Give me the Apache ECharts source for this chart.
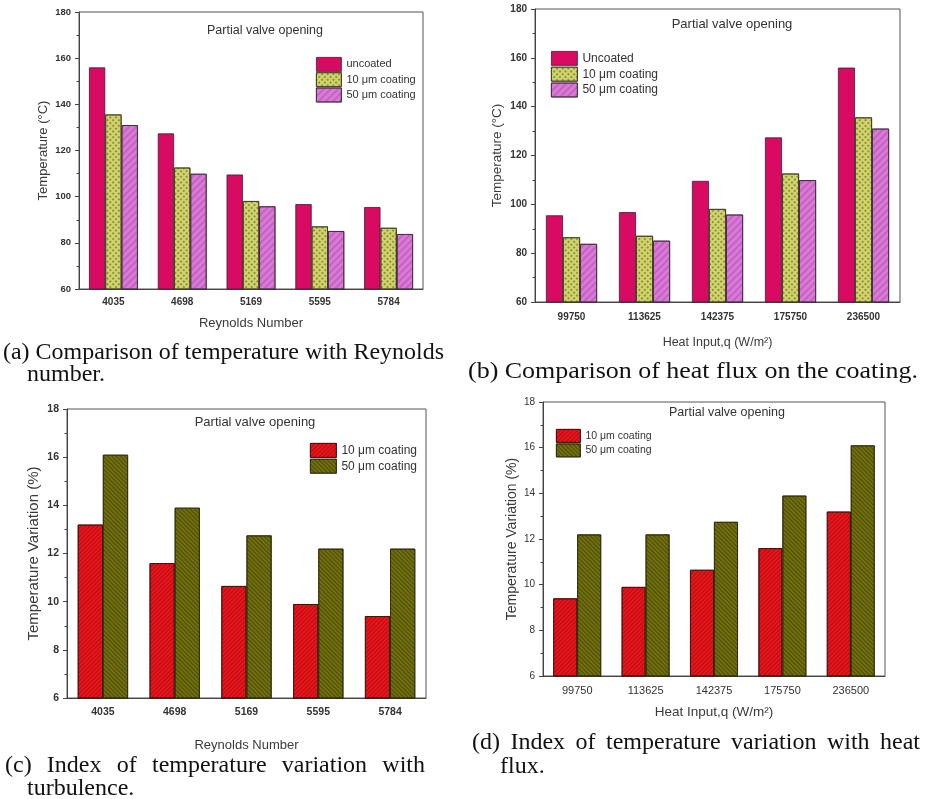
<!DOCTYPE html>
<html>
<head>
<meta charset="utf-8">
<script src="https://cdn.jsdelivr.net/npm/echarts@6/dist/echarts.min.js"></script>
<style>
  html, body { margin: 0; padding: 0; background: #fff; }
  #chart { width: 928px; height: 799px; }
</style>
</head>
<body>
<div id="chart"></div>
<script>
// Reynolds-number panels (a) and (c)
const reynolds = ['4035', '4698', '5169', '5595', '5784'];
const tempUncoatedRe = [156.0, 127.4, 109.6, 96.8, 95.5];
const temp10Re = [135.6, 112.6, 98.1, 87.1, 86.5];
const temp50Re = [131.0, 109.9, 95.8, 85.1, 83.8];
const var10Re = [13.2, 11.6, 10.65, 9.9, 9.4];
const var50Re = [16.1, 13.9, 12.75, 12.2, 12.2];

// Heat-input panels (b) and (d)
const heatInput = ['99750', '113625', '142375', '175750', '236500'];
const tempUncoatedQ = [95.5, 96.8, 109.6, 127.4, 156.0];
const temp10Q = [86.5, 87.1, 98.1, 112.6, 135.6];
const temp50Q = [83.8, 85.1, 95.8, 109.9, 131.0];
const var10Q = [9.4, 9.9, 10.65, 11.6, 13.2];
const var50Q = [12.2, 12.2, 12.75, 13.9, 16.1];

const tempTicks = { min: 60, max: 180, interval: 20 };
const varTicks = { min: 6, max: 18, interval: 2 };

const SANS = '"Liberation Sans", Arial, sans-serif';
const SERIF = '"Liberation Serif", "Times New Roman", serif';

// fill patterns
const checkerDecal = {
  symbol: 'rect', symbolSize: 1,
  dashArrayX: [1.5, 1.5], dashArrayY: [1.5, 1.5], rotation: Math.PI / 4,
  color: 'rgba(80,80,20,0.5)'
};
const pinkHatch = {
  symbol: 'rect', symbolSize: 1,
  dashArrayX: [1, 0], dashArrayY: [2, 3], rotation: -Math.PI / 4,
  color: 'rgba(170,60,170,0.4)'
};
const redHatch = {
  symbol: 'rect', symbolSize: 1,
  dashArrayX: [1, 0], dashArrayY: [1, 2], rotation: -Math.PI / 4,
  color: 'rgba(120,0,0,0.45)'
};
const oliveHatch = {
  symbol: 'rect', symbolSize: 1,
  dashArrayX: [1, 0], dashArrayY: [1, 2], rotation: Math.PI / 4,
  color: 'rgba(40,40,0,0.5)'
};

const styles = {
  uncoated: { color: '#d80a62', borderColor: '#3a2030', borderWidth: 0.8 },
  c10: { color: '#d0d46a', borderColor: '#3a3a20', borderWidth: 0.8, decal: checkerDecal },
  c50: { color: '#d97ad6', borderColor: '#3a2a3a', borderWidth: 0.8, decal: pinkHatch },
  red: { color: '#e8161c', borderColor: '#3a1010', borderWidth: 0.8, decal: redHatch },
  olive: { color: '#716f0e', borderColor: '#2a2a10', borderWidth: 0.8, decal: oliveHatch }
};

const grids = [
  { left: 79, top: 12, width: 344, height: 277 },
  { left: 535, top: 9, width: 365, height: 293 },
  { left: 67, top: 409, width: 359, height: 289 },
  { left: 543, top: 402, width: 342, height: 274 }
].map(g => Object.assign({ show: true, borderColor: '#555', borderWidth: 1, backgroundColor: 'transparent' }, g));

function xAxis(gridIndex, cats, name, o) {
  return {
    type: 'category', gridIndex, data: cats,
    name, nameLocation: 'middle', nameGap: o.nameGap,
    nameTextStyle: { fontFamily: SANS, fontSize: o.nameSize, color: '#3a3a3a' },
    axisLine: { lineStyle: { color: '#444', width: 1 } },
    axisTick: { length: 4, lineStyle: { color: '#444' } },
    axisLabel: { fontFamily: SANS, fontSize: o.labelSize, fontWeight: o.bold ? 'bold' : 'normal', color: '#333', margin: o.margin }
  };
}

function yAxis(gridIndex, ticks, name, o) {
  return {
    type: 'value', gridIndex, min: ticks.min, max: ticks.max, interval: ticks.interval,
    name, nameLocation: 'middle', nameGap: o.nameGap,
    nameTextStyle: { fontFamily: SANS, fontSize: o.nameSize, color: '#3a3a3a' },
    axisLine: { show: true, lineStyle: { color: '#444', width: 1 } },
    axisTick: { show: true, length: 4, lineStyle: { color: '#444' } },
    minorTick: { show: true, splitNumber: 2, length: 2.5, lineStyle: { color: '#444' } },
    splitLine: { show: false },
    axisLabel: { fontFamily: SANS, fontSize: o.labelSize, fontWeight: o.bold ? 'bold' : 'normal', color: '#333', margin: o.margin }
  };
}

const legendNames = { 'TV 10': '10 μm coating', 'TV 50': '50 μm coating' };
function legend(names, o) {
  return {
    data: names, orient: 'vertical', left: o.left, top: o.top, padding: 0,
    icon: 'rect', itemWidth: o.w, itemHeight: o.h, itemGap: o.gap,
    itemStyle: { borderWidth: 0.8 },
    textStyle: { fontFamily: SANS, fontSize: o.size, color: '#333' },
    formatter: n => legendNames[n] || n
  };
}

function bar(name, data, style, idx, gap) {
  return {
    type: 'bar', name, data, xAxisIndex: idx, yAxisIndex: idx,
    barGap: '0%', barCategoryGap: gap, itemStyle: style
  };
}

// captions below each panel, in a serif face
const CAP_SIZE = 24;
const measureCtx = document.createElement('canvas').getContext('2d');
function textWidth(t) {
  measureCtx.font = CAP_SIZE + 'px ' + SERIF;
  return measureCtx.measureText(t).width;
}
function justifiedWords(text, x0, x1, y) {
  const words = text.split(' ');
  const widths = words.map(textWidth);
  const total = widths.reduce((s, w) => s + w, 0);
  const gap = (x1 - x0 - total) / (words.length - 1);
  let x = x0;
  return words.map((w, i) => {
    const el = captionText(w, x, y);
    x += widths[i] + gap;
    return el;
  });
}
function captionText(text, x, y, fitWidth) {
  const el = {
    type: 'text', x, y,
    style: { text, fontFamily: SERIF, fontSize: CAP_SIZE, fill: '#111', textVerticalAlign: 'middle' }
  };
  if (fitWidth) el.scaleX = fitWidth / textWidth(text);
  return el;
}
function panelTitle(x, y, size) {
  return {
    type: 'text', x, y,
    style: { text: 'Partial valve opening', fontFamily: SANS, fontSize: size, fill: '#333', textAlign: 'center', textVerticalAlign: 'middle' }
  };
}

const option = {
  animation: false,
  backgroundColor: '#fff',
  grid: grids,
  xAxis: [
    xAxis(0, reynolds, 'Reynolds Number', { nameGap: 28, nameSize: 13, labelSize: 10, bold: true, margin: 8 }),
    xAxis(1, heatInput, 'Heat Input,q (W/m²)', { nameGap: 34, nameSize: 12.5, labelSize: 10, bold: true, margin: 10 }),
    xAxis(2, reynolds, 'Reynolds Number', { nameGap: 41, nameSize: 13, labelSize: 10.5, bold: true, margin: 9 }),
    xAxis(3, heatInput, 'Heat Input,q (W/m²)', { nameGap: 29, nameSize: 13.5, labelSize: 11, bold: false, margin: 9 })
  ],
  yAxis: [
    yAxis(0, tempTicks, 'Temperature (°C)', { nameGap: 29, nameSize: 13, labelSize: 9.5, bold: true, margin: 8 }),
    yAxis(1, tempTicks, 'Temperature (°C)', { nameGap: 31, nameSize: 13.5, labelSize: 10, bold: true, margin: 8 }),
    yAxis(2, varTicks, 'Temperature Variation (%)', { nameGap: 26, nameSize: 15, labelSize: 10.5, bold: true, margin: 8 }),
    yAxis(3, varTicks, 'Temperature Variation (%)', { nameGap: 24, nameSize: 14, labelSize: 10, bold: false, margin: 8 })
  ],
  legend: [
    legend(['uncoated', '10 μm coating', '50 μm coating'], { left: 316, top: 57, w: 25, h: 14, gap: 0.5, size: 11 }),
    legend(['Uncoated', '10 μm coating', '50 μm coating'], { left: 551, top: 51, w: 26, h: 14, gap: 1, size: 12 }),
    legend(['TV 10', 'TV 50'], { left: 310, top: 443, w: 26, h: 14, gap: 1, size: 12 }),
    legend(['TV 10', 'TV 50'], { left: 556, top: 429, w: 24, h: 13, gap: 0.7, size: 10.5 })
  ],
  series: [
    bar('uncoated', tempUncoatedRe, styles.uncoated, 0, '29%'),
    bar('10 μm coating', temp10Re, styles.c10, 0, '29%'),
    bar('50 μm coating', temp50Re, styles.c50, 0, '29%'),
    bar('Uncoated', tempUncoatedQ, styles.uncoated, 1, '30%'),
    bar('10 μm coating', temp10Q, styles.c10, 1, '30%'),
    bar('50 μm coating', temp50Q, styles.c50, 1, '30%'),
    bar('TV 10', var10Re, styles.red, 2, '30%'),
    bar('TV 50', var50Re, styles.olive, 2, '30%'),
    bar('TV 10', var10Q, styles.red, 3, '30%'),
    bar('TV 50', var50Q, styles.olive, 3, '30%')
  ],
  graphic: [
    panelTitle(265, 31, 12.5),
    panelTitle(732, 24, 13),
    panelTitle(255, 422, 13),
    panelTitle(727, 413, 12.5),
    captionText('(a) Comparison of temperature with Reynolds', 3, 353, 441),
    captionText('number.', 27, 375),
    captionText('(b) Comparison of heat flux on the coating.', 468, 372, 450),
    ...justifiedWords('(c) Index of temperature variation with', 5, 425, 766),
    captionText('turbulence.', 27, 789),
    ...justifiedWords('(d) Index of temperature variation with heat', 472, 920, 743),
    captionText('flux.', 500, 767)
  ]
};

const chart = echarts.init(document.getElementById('chart'));
chart.setOption(option);
</script>
</body>
</html>
